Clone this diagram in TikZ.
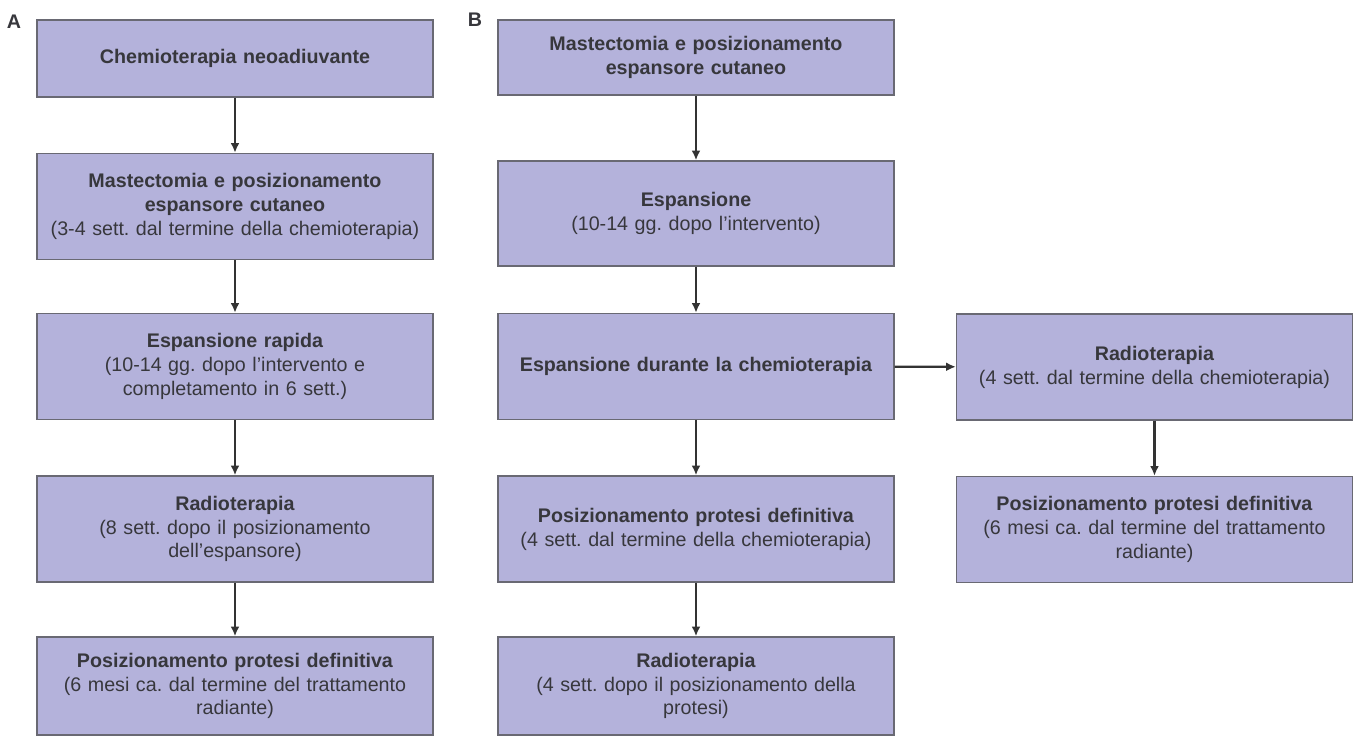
\documentclass[tikz,border=0pt]{standalone}
\usepackage{fontspec}
\setmainfont{Liberation Sans}
\usetikzlibrary{arrows.meta}

\definecolor{boxfill}{RGB}{180,178,219}
\definecolor{boxline}{RGB}{105,105,115}
\definecolor{txt}{RGB}{55,55,60}

\tikzset{
  stepbox/.style={draw=boxline, line width=0.8pt, fill=boxfill, text=txt,
    minimum width=7.92cm, minimum height=2.12cm, text width=7.6cm,
    align=center, inner sep=0pt, font=\fontsize{11.2}{13.6}\selectfont},
  arr/.style={draw=black!80, line width=1.3pt, -{Latex[length=5.5pt,width=5pt]}},
  panel/.style={font=\fontsize{11.2}{13.6}\selectfont\bfseries, text=txt}
}

\begin{document}
\frenchspacing
\begin{tikzpicture}[x=0.02cm, y=-0.02cm]
\useasboundingbox (0,0) rectangle (1357,736);

% Panel A
\node[panel] (labA) at (14,22) {A};
\node[stepbox, minimum height=1.54cm] (a1) at (235,58.5) {\textbf{Chemioterapia neoadiuvante}};
\node[stepbox] (a2) at (235,206.5) {\textbf{Mastectomia e posizionamento}\\\textbf{espansore cutaneo}\\(3-4 sett. dal termine della chemioterapia)};
\node[stepbox] (a3) at (235,366.5) {\textbf{Espansione rapida}\\(10-14 gg. dopo l'intervento e\\completamento in 6 sett.)};
\node[stepbox] (a4) at (235,529) {\textbf{Radioterapia}\\(8 sett. dopo il posizionamento\\dell'espansore)};
\node[stepbox, minimum height=1.96cm] (a5) at (235,686) {\textbf{Posizionamento protesi definitiva}\\(6 mesi ca. dal termine del trattamento\\radiante)};

\draw[arr] (a1) -- (a2);
\draw[arr] (a2) -- (a3);
\draw[arr] (a3) -- (a4);
\draw[arr] (a4) -- (a5);

% Panel B
\node[panel] (labB) at (475,20) {B};
\node[stepbox, minimum height=1.5cm] (b1) at (696,57.5) {\textbf{Mastectomia e posizionamento}\\\textbf{espansore cutaneo}};
\node[stepbox, minimum height=2.1cm] (b2) at (696,213.5) {\textbf{Espansione}\\(10-14 gg. dopo l'intervento)};
\node[stepbox] (b3) at (696,366.5) {\textbf{Espansione durante la chemioterapia}};
\node[stepbox] (b4) at (696,529) {\textbf{Posizionamento protesi definitiva}\\(4 sett. dal termine della chemioterapia)};
\node[stepbox, minimum height=1.96cm] (b5) at (696,686) {\textbf{Radioterapia}\\(4 sett. dopo il posizionamento della\\protesi)};

\node[stepbox, text width=7.8cm] (c1) at (1154.5,367) {\textbf{Radioterapia}\\(4 sett. dal termine della chemioterapia)};
\node[stepbox] (c2) at (1154.5,529.5) {\textbf{Posizionamento protesi definitiva}\\(6 mesi ca. dal termine del trattamento\\radiante)};

\draw[arr] (b1) -- (b2);
\draw[arr] (b2) -- (b3);
\draw[arr] (b3) -- (b4);
\draw[arr] (b4) -- (b5);
\draw[arr] (b3) -- (c1);
\draw[arr] (c1) -- (c2);

\end{tikzpicture}
\end{document}
